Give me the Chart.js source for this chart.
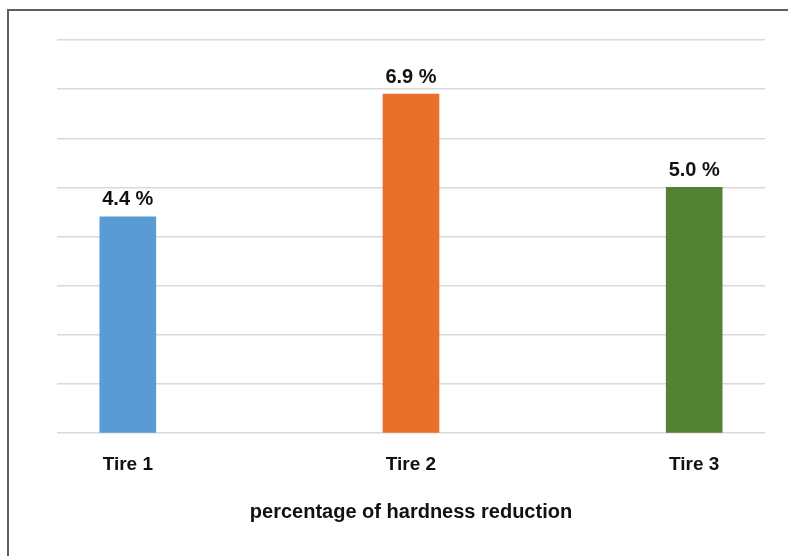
<!DOCTYPE html>
<html>
<head>
<meta charset="utf-8">
<script src="https://cdn.jsdelivr.net/npm/chart.js@4"></script>
<style>
  html, body { margin: 0; padding: 0; background: #fff; overflow: hidden; }
  #wrap { position: relative; width: 788px; height: 556px; }
  #frame { position: absolute; left: 7px; top: 9px; width: 800px; height: 600px;
           border: 2px solid #5e5e5e; box-sizing: border-box; pointer-events: none; }
  canvas { position: absolute; left: 0; top: 0; }
</style>
</head>
<body>
<div id="wrap">
  <canvas id="c" width="788" height="556"></canvas>
  <div id="frame"></div>
</div>
<script>
// Hardness reduction per tire (%)
const categories = ['Tire 1', 'Tire 2', 'Tire 3'];
const reduction = [4.4, 6.9, 5.0];
const barColors = ['#5b9bd5', '#e8702a', '#548235'];
const axisTitle = 'percentage of hardness reduction';

const FONT = '"Liberation Sans", Arial, sans-serif';
const TEXT = '#111111';

// value labels above each bar, e.g. "4.4 %"
const valueLabels = {
  id: 'valueLabels',
  afterDatasetsDraw(chart) {
    const ctx = chart.ctx;
    const meta = chart.getDatasetMeta(0);
    ctx.save();
    ctx.font = 'bold 20px ' + FONT;
    ctx.fillStyle = TEXT;
    ctx.textAlign = 'center';
    ctx.textBaseline = 'middle';
    meta.data.forEach((bar, i) => {
      ctx.fillText(reduction[i].toFixed(1) + ' %', bar.x, bar.y - 17);
    });
    ctx.restore();
  }
};

new Chart(document.getElementById('c'), {
  type: 'bar',
  data: {
    datasets: [{
      data: reduction.map((v, i) => ({ x: i, y: v })),
      backgroundColor: barColors,
      borderWidth: 0,
      barThickness: 56
    }]
  },
  options: {
    responsive: false,
    animation: false,
    layout: { padding: { left: 57, right: 23, top: 40, bottom: 32 } },
    plugins: { legend: { display: false }, tooltip: { enabled: false } },
    scales: {
      x: {
        type: 'linear',
        min: -0.25,
        max: 2.25,
        offset: false,
        afterBuildTicks(scale) {
          scale.ticks = categories.map((_, i) => ({ value: i }));
        },
        grid: { display: false },
        border: { display: false },
        ticks: {
          callback: (v) => categories[v],
          font: { family: FONT, size: 19, weight: 'bold' },
          color: TEXT,
          padding: 12,
          maxRotation: 0,
          autoSkip: false
        },
        title: {
          display: true,
          text: axisTitle,
          font: { family: FONT, size: 20, weight: 'bold' },
          color: TEXT,
          padding: { top: 12, bottom: 0 }
        }
      },
      y: {
        min: 0,
        max: 8,
        ticks: { display: false, stepSize: 1 },
        grid: { color: '#d9d9d9', lineWidth: 1.5, drawTicks: false },
        border: { display: false }
      }
    }
  },
  plugins: [valueLabels]
});
</script>
</body>
</html>
